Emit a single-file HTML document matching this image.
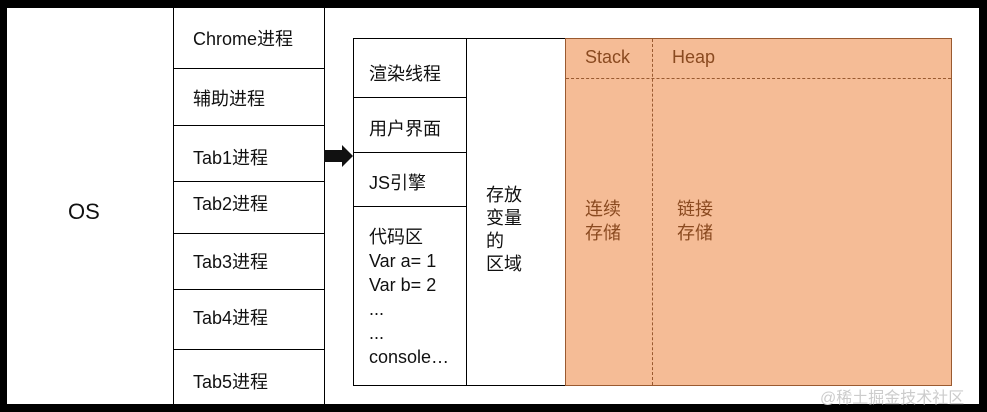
<!DOCTYPE html>
<html><head><meta charset="utf-8"><style>
body{margin:0;width:987px;height:412px;background:#000;position:relative;overflow:hidden;font-family:"Liberation Sans","Noto Sans CJK SC",sans-serif;}
.a{position:absolute;box-sizing:border-box}
.t{position:absolute;font-size:18px;color:#111;white-space:nowrap}
</style></head><body>
<div class="a" style="left:7px;top:8px;width:972px;height:396px;background:#fff"></div>
<div class="a" style="left:173px;top:8px;width:152px;height:396px;border-left:1px solid #000;border-right:1px solid #000"></div>
<div class="a" style="left:173px;top:68px;width:152px;height:1px;background:#000"></div>
<div class="a" style="left:173px;top:125px;width:152px;height:1px;background:#000"></div>
<div class="a" style="left:173px;top:181px;width:152px;height:1px;background:#000"></div>
<div class="a" style="left:173px;top:233px;width:152px;height:1px;background:#000"></div>
<div class="a" style="left:173px;top:289px;width:152px;height:1px;background:#000"></div>
<div class="a" style="left:173px;top:349px;width:152px;height:1px;background:#000"></div>
<div class="t" style="left:68px;top:199px;font-size:22px">OS</div>
<div class="t" style="left:193px;top:25px">Chrome进程</div>
<div class="t" style="left:193px;top:85px">辅助进程</div>
<div class="t" style="left:193px;top:144px">Tab1进程</div>
<div class="t" style="left:193px;top:190px">Tab2进程</div>
<div class="t" style="left:193px;top:248px">Tab3进程</div>
<div class="t" style="left:193px;top:304px">Tab4进程</div>
<div class="t" style="left:193px;top:368px">Tab5进程</div>
<svg class="a" style="left:324px;top:143px" width="30" height="26"><path d="M0 7H18V2L29 13L18 24V19H0Z" fill="#111"/></svg>
<div class="a" style="left:353px;top:38px;width:213px;height:348px;border:1px solid #000"></div>
<div class="a" style="left:466px;top:38px;width:1px;height:348px;background:#000"></div>
<div class="a" style="left:353px;top:97px;width:113px;height:1px;background:#000"></div>
<div class="a" style="left:353px;top:152px;width:113px;height:1px;background:#000"></div>
<div class="a" style="left:353px;top:206px;width:113px;height:1px;background:#000"></div>
<div class="t" style="left:369px;top:60px">渲染线程</div>
<div class="t" style="left:369px;top:115px">用户界面</div>
<div class="t" style="left:369px;top:169px">JS引擎</div>
<div class="t" style="left:369px;top:225px;line-height:24px">代码区<br>Var a= 1<br>Var b= 2<br>...<br>...<br>console…</div>
<div class="t" style="left:486px;top:184px;line-height:23px">存放<br>变量<br>的<br>区域</div>
<div class="a" style="left:565px;top:38px;width:387px;height:348px;background:#f5bc96;border:1px solid #9a5a30"></div>
<div class="a" style="left:566px;top:78px;width:385px;border-top:1px dashed #9a5a30"></div>
<div class="a" style="left:652px;top:39px;height:346px;border-left:1px dashed #9a5a30"></div>
<div class="t" style="left:585px;top:47px;color:#8a4a20">Stack</div>
<div class="t" style="left:672px;top:47px;color:#8a4a20">Heap</div>
<div class="t" style="left:585px;top:197px;color:#8a4a20;line-height:24px">连续<br>存储</div>
<div class="t" style="left:677px;top:197px;color:#8a4a20;line-height:24px">链接<br>存储</div>
<div class="t" style="left:820px;top:384px;font-size:16px;color:#ccc">@稀土掘金技术社区</div>
</body></html>
